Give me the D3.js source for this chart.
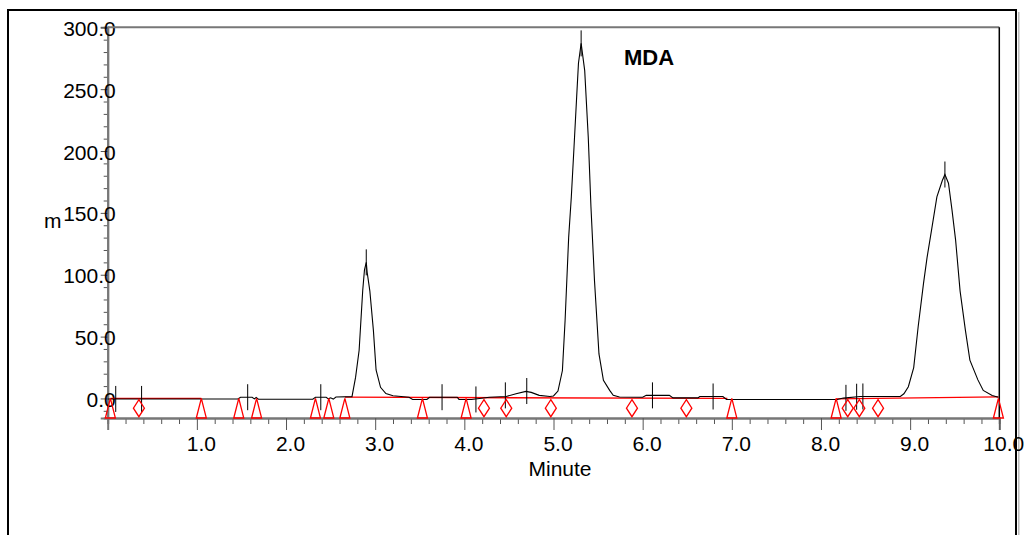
<!DOCTYPE html>
<html>
<head>
<meta charset="utf-8">
<script src="https://cdn.jsdelivr.net/npm/d3@7"></script>
<style>
body { margin: 0; background: #fff; }
text { font-family: "Liberation Sans", Arial, sans-serif; fill: #000; }
</style>
</head>
<body>
<script>
// chromatogram data (minutes, signal)
var traceTime = [0.00, 0.30, 1.46, 1.49, 1.62, 1.645, 1.665, 1.69, 2.30, 2.33, 2.45, 2.475, 2.50, 2.53, 2.56, 2.74,
    2.78, 2.82, 2.86, 2.88, 2.90, 2.91, 2.94, 2.98, 3.01, 3.06, 3.12, 3.20, 3.38, 3.42, 3.58, 3.61, 3.92, 3.94, 4.08,
    4.28, 4.47, 4.58, 4.69, 4.75, 4.84, 4.96, 5.00, 5.05, 5.10, 5.13, 5.17, 5.20, 5.23, 5.26, 5.28, 5.31, 5.35, 5.39,
    5.42, 5.46, 5.51, 5.56, 5.63, 5.67, 5.74, 6.00, 6.04, 6.30, 6.34, 6.62, 6.64, 6.90, 6.94, 8.18, 8.25, 8.44, 8.89,
    8.93, 8.98, 9.04, 9.09, 9.15, 9.19, 9.24, 9.30, 9.36, 9.39, 9.43, 9.47, 9.51, 9.56, 9.62, 9.67, 9.76, 9.82, 9.92, 9.99];
var traceSignal = [-0.4, -0.4, -0.5, 1.0, 1.0, -0.3, 0.8, -0.6, -0.6, 1.0, 1.0, -0.3, 0.5, -0.5, 1.2, 1.5,
    17, 39, 87, 104, 110, 102, 87, 55, 23, 9, 4, 2.2, 1, -0.8, -0.8, 1, 1, -0.8, -0.8,
    1, 1.6, 3.8, 5.7, 4.9, 2.5, 1.6, 2.0, 6, 22.6, 63, 130, 163, 203, 244, 271, 287, 265, 211,
    155, 95, 36, 14.6, 6.5, 2.5, 1.2, 1, 2.5, 2.5, 0.5, 0.5, 1.6, 1.6, -0.8, -0.8, 0.3, 1.6, 1.6,
    3.8, 9.5, 25, 58, 93, 114, 136, 163, 176, 181, 174, 152, 128, 87, 55, 31, 15, 6.5, 2.4, 1];

// peak start / end / apex marks
var markTime = [0.09, 0.38, 1.57, 2.39, 2.90, 3.75, 4.13, 4.46, 4.70, 5.31, 6.11, 6.79, 8.28, 8.40, 8.47, 9.39];
var markLevel = [-0.4, -0.4, 1.0, 1.0, 110, 1.0, -0.8, 2.5, 6, 287, 2.5, 1.6, 0.5, 1.4, 1.6, 181];

// red integration events
var triTime = [0.03, 1.05, 1.47, 1.67, 2.33, 2.48, 2.66, 3.53, 4.02, 7.00, 8.17, 9.99];
var diaTime = [0.35, 4.22, 4.47, 4.97, 5.88, 6.49, 8.30, 8.43, 8.64];

// red baseline segments
var baseStartTime = [0.03, 2.66, 8.17], baseStartLevel = [0, 1.0, -0.3];
var baseEndTime = [1.05, 6.95, 9.99], baseEndLevel = [0, 0, 1.2];

// axis ticks
var xMajor = [1, 2, 3, 4, 5, 6, 7, 8, 9, 10];
var xLabels = ["1.0", "2.0", "3.0", "4.0", "5.0", "6.0", "7.0", "8.0", "9.0", "10.0"];
var yMajor = [0, 50, 100, 150, 200, 250, 300];
var yLabels = ["0.0", "50.0", "100.0", "150.0", "200.0", "250.0", "300.0"];

window.onload = drawChart();

function drawChart(){
    var width = 1025,
        height = 535;

    var svg = d3.select("body")
        .append("svg")
        .attr("width", width)
        .attr("height", height);

    //outer frame
    svg.append("rect")
        .attr("x", 1018).attr("y", 12).attr("width", 1.5).attr("height", 600)
        .attr("fill", "#bbb");
    svg.append("rect")
        .attr("x", 8).attr("y", 10).attr("width", 1008).attr("height", 600)
        .attr("fill", "none").attr("stroke", "#000").attr("stroke-width", 2);

    var x = d3.scaleLinear().domain([0, 10]).range([107.7, 999.3]);
    var y = d3.scaleLinear().domain([-15.8, 300]).range([418, 27.3]);

    //minor ticks first
    var xMinor = d3.range(1, 50).map(function(d){ return d / 5; })
        .filter(function(d){ return Math.abs(d - Math.round(d)) > 0.01; });
    svg.append("g")
        .attr("transform", "translate(0," + y.range()[0] + ")")
        .call(d3.axisBottom(x).tickValues(xMinor).tickSize(6).tickFormat(""))
        .call(styleAxis);

    var yMinor = d3.range(-10, 300, 10).filter(function(d){ return d % 50 !== 0; });
    svg.append("g")
        .attr("transform", "translate(" + x(0) + ",0)")
        .call(d3.axisLeft(y).tickValues(yMinor).tickSize(4).tickFormat(""))
        .call(styleAxis);

    //major x axis
    var xAxis = svg.append("g")
        .attr("transform", "translate(0," + y.range()[0] + ")")
        .call(d3.axisBottom(x).tickValues(xMajor).tickSize(12)
            .tickFormat(function(d, i){ return xLabels[i]; }))
        .call(styleAxis);
    xAxis.selectAll("text")
        .attr("x", 4).attr("y", 18)
        .style("font-size", "21px");

    //major y axis
    var yAxis = svg.append("g")
        .attr("transform", "translate(" + x(0) + ",0)")
        .call(d3.axisLeft(y).tickValues(yMajor).tickSize(7)
            .tickFormat(function(d, i){ return yLabels[i]; }))
        .call(styleAxis);
    yAxis.selectAll("text")
        .attr("x", 8).attr("dy", "0.38em")
        .style("font-size", "21px");

    //top and right border of plot
    svg.append("line")
        .attr("x1", x(0)).attr("x2", x(10)).attr("y1", y(300)).attr("y2", y(300))
        .attr("stroke", "#777").attr("stroke-width", 2);
    svg.append("line")
        .attr("x1", x(10)).attr("x2", x(10)).attr("y1", y(300)).attr("y2", y.range()[0])
        .attr("stroke", "#000").attr("stroke-width", 1.5);

    //red baseline
    svg.selectAll(".baseline")
        .data(baseStartTime)
        .enter()
        .append("line")
        .attr("class", "baseline")
        .attr("x1", function(d){ return x(d); })
        .attr("y1", function(d, i){ return y(baseStartLevel[i]); })
        .attr("x2", function(d, i){ return x(baseEndTime[i]); })
        .attr("y2", function(d, i){ return y(baseEndLevel[i]); })
        .attr("stroke", "#ff0000").attr("stroke-width", 1.3);

    //signal trace
    var line = d3.line()
        .x(function(d){ return x(d); })
        .y(function(d, i){ return y(traceSignal[i]); });
    svg.append("path")
        .datum(traceTime)
        .attr("d", line)
        .attr("fill", "none")
        .attr("stroke", "#000")
        .attr("stroke-width", 1.1);

    //peak marks
    svg.selectAll(".mark")
        .data(markTime)
        .enter()
        .append("line")
        .attr("class", "mark")
        .attr("x1", function(d){ return x(d); })
        .attr("x2", function(d){ return x(d); })
        .attr("y1", function(d, i){ return y(markLevel[i]) - 13; })
        .attr("y2", function(d, i){ return y(markLevel[i]) + 13; })
        .attr("stroke", "#000").attr("stroke-width", 1);

    //triangles (base on x axis, apex at zero)
    var y0 = y(0), yb = y.range()[0];
    svg.selectAll(".tri")
        .data(triTime)
        .enter()
        .append("path")
        .attr("class", "tri")
        .attr("d", function(d){
            var cx = x(d);
            return "M" + (cx - 5) + "," + yb + "L" + cx + "," + y0 + "L" + (cx + 5) + "," + yb + "Z";
        })
        .attr("fill", "none").attr("stroke", "#ff0000").attr("stroke-width", 1.3);

    //diamonds
    var dy = (y0 + yb) / 2;
    svg.selectAll(".dia")
        .data(diaTime)
        .enter()
        .append("path")
        .attr("class", "dia")
        .attr("d", function(d){
            var cx = x(d);
            return "M" + cx + "," + (dy - 8.5) + "L" + (cx + 5.5) + "," + dy + "L" + cx + "," + (dy + 8.5) + "L" + (cx - 5.5) + "," + dy + "Z";
        })
        .attr("fill", "none").attr("stroke", "#ff0000").attr("stroke-width", 1.3);

    //labels
    svg.append("text")
        .attr("x", 560).attr("y", 476)
        .attr("text-anchor", "middle")
        .style("font-size", "21px")
        .text("Minute");

    svg.append("text")
        .attr("x", 44).attr("y", 228)
        .style("font-size", "21px")
        .text("m");

    svg.append("text")
        .attr("x", 624).attr("y", 65)
        .style("font-size", "22px")
        .style("font-weight", "bold")
        .text("MDA");
};

function styleAxis(g){
    g.select(".domain").attr("stroke", "#777").attr("stroke-width", 2);
    g.selectAll(".tick line").attr("stroke", "#555").attr("stroke-width", 1);
};
</script>
</body>
</html>
